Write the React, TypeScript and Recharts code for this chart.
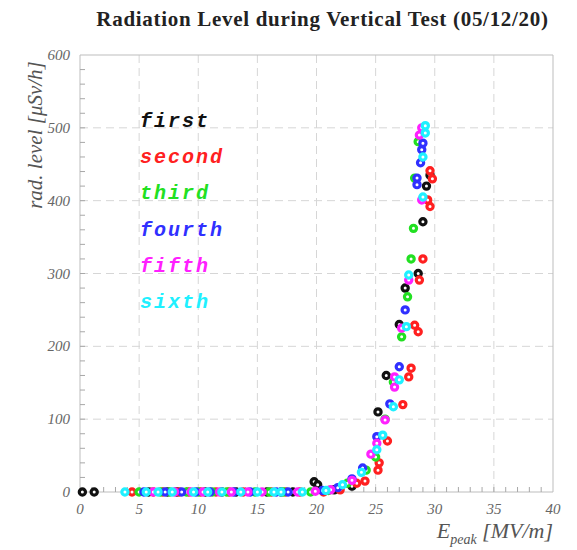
import {
	ReferenceLine,
	Scatter,
	ScatterChart,
	XAxis,
	YAxis,
} from 'recharts'

// E_peak [MV/m] and radiation [uSv/h], per test run
const firstX = [0.2, 1.2, 5.8, 7.4, 8.2, 10.6, 12.0, 13.2, 15.8, 17.0, 18.0, 19.8, 20.1, 21.5, 23.0, 25.2, 25.9, 27.0, 27.5, 28.6, 29.0, 29.3, 29.6]
const firstY = [0, 0, 0, 0, 0, 0, 0, 0, 0, 0, 0, 14, 10, 3, 8, 110, 160, 230, 280, 300, 371, 420, 435]

const secondX = [4.4, 6.2, 7.0, 8.4, 9.2, 10.2, 11.5, 12.6, 13.8, 16.2, 17.4, 18.6, 20.6, 22.0, 23.4, 24.1, 25.2, 25.3, 26.0, 27.3, 27.8, 28.0, 28.3, 28.6, 28.7, 29.0, 29.4, 29.6, 29.6, 29.8]
const secondY = [0, 0, 0, 0, 0, 0, 0, 0, 0, 0, 0, 0, 0, 3, 12, 15, 30, 40, 70, 120, 158, 170, 229, 220, 291, 320, 401, 392, 441, 430]

const thirdX = [5.0, 6.8, 7.6, 9.0, 10.0, 11.2, 12.4, 14.8, 16.0, 17.2, 19.5, 21.0, 22.6, 24.2, 25.0, 25.8, 26.5, 27.2, 27.7, 28.0, 28.2, 28.3, 28.6]
const thirdY = [0, 0, 0, 0, 0, 0, 0, 0, 0, 0, 0, 2, 12, 30, 48, 100, 151, 213, 268, 320, 362, 431, 481]

const fourthX = [5.4, 7.2, 8.6, 9.8, 11.0, 13.0, 14.4, 16.6, 17.6, 20.5, 21.8, 23.0, 23.9, 25.1, 26.2, 27.0, 27.5, 28.5, 28.5, 28.8, 28.9, 29.0]
const fourthY = [0, 0, 0, 0, 0, 0, 0, 0, 0, 2, 6, 18, 33, 76, 121, 172, 250, 431, 422, 452, 470, 479]

const fifthX = [6.2, 8.0, 9.4, 10.4, 11.8, 12.8, 14.2, 15.4, 18.4, 19.9, 21.2, 23.0, 24.6, 25.1, 25.8, 26.6, 26.6, 27.2, 27.8, 28.9, 28.7, 28.9]
const fifthY = [0, 0, 0, 0, 0, 0, 0, 0, 0, 1, 3, 16, 52, 67, 99, 144, 158, 225, 291, 401, 490, 500]

const sixthX = [3.8, 5.6, 6.6, 7.8, 9.6, 10.8, 12.0, 13.6, 15.0, 16.4, 17.0, 18.8, 20.8, 22.2, 23.8, 25.1, 25.6, 26.5, 27.0, 27.6, 27.8, 29.0, 29.0, 29.2, 29.2]
const sixthY = [0, 0, 0, 0, 0, 0, 0, 0, 0, 0, 0, 0, 2, 10, 27, 58, 78, 117, 154, 227, 298, 405, 460, 493, 503]

const runNames = ['first', 'second', 'third', 'fourth', 'fifth', 'sixth']
const runColors = ['#111111', '#ff2020', '#22e022', '#3030ff', '#ff20ff', '#20f0ff']

const xMajor = [0, 5, 10, 15, 20, 25, 30, 35, 40]
const yMajor = [0, 100, 200, 300, 400, 500, 600]
const xMinor = Array.from({ length: 39 }, (_, i) => i + 1)
const yMinor = Array.from({ length: 29 }, (_, i) => (i + 1) * 20)

const toPoints = (xs: number[], ys: number[]) => xs.map((x, i) => ({ x, y: ys[i] }))

const runs = [
	toPoints(firstX, firstY),
	toPoints(secondX, secondY),
	toPoints(thirdX, thirdY),
	toPoints(fourthX, fourthY),
	toPoints(fifthX, fifthY),
	toPoints(sixthX, sixthY),
]

// inner tick marks sit on the axes: x ticks at y = 0, y ticks at x = 0
const xTickMarks = xMinor.map((x) => ({ x, y: 0 }))
const yTickMarks = yMinor.map((y) => ({ x: 0, y }))

const serif = '"Liberation Serif", "DejaVu Serif", serif'
const axisGrey = '#bdbdbd'
const gridGrey = '#d6d6d6'
const tickGrey = '#a8a8a8'

const XTick = (props: any) => {
	const { x, y, payload } = props
	return (
		<text x={x} y={y + 12} textAnchor='middle' fontFamily={serif} fontStyle='italic' fontSize={15} fill='#666'>
			{payload.value}
		</text>
	)
}

const YTick = (props: any) => {
	const { x, y, payload } = props
	return (
		<text x={x} y={y + 5} textAnchor='end' fontFamily={serif} fontStyle='italic' fontSize={15} fill='#666'>
			{payload.value}
		</text>
	)
}

const ringDot = (color: string) => (props: any) => (
	<circle cx={props.cx} cy={props.cy} r={3.1} fill='#ffffff' stroke={color} strokeWidth={3.2} />
)

// plain <line> shapes get their stroke dropped, so tick marks are thin rects
const upTick = (props: any) => (
	<rect x={props.cx - 0.5} y={props.cy - 5} width={1} height={5} fill={tickGrey} />
)

const rightTick = (props: any) => (
	<rect x={props.cx} y={props.cy - 0.5} width={5} height={1} fill={tickGrey} />
)

export default function App() {
	return (
		<div style={{ position: 'absolute', left: 0, top: 0, width: 577, height: 550, background: '#fff' }}>
			<div
				style={{
					position: 'absolute',
					left: 0,
					width: 577,
					top: 7,
					paddingLeft: 68,
					boxSizing: 'border-box',
					textAlign: 'center',
					fontFamily: serif,
					fontWeight: 'bold',
					fontSize: 21,
					letterSpacing: 0.7,
					color: '#222',
				}}
			>
				Radiation Level during Vertical Test (05/12/20)
			</div>
			<ScatterChart width={577} height={550} margin={{ top: 55, right: 24, bottom: 28, left: 0 }}>
				<XAxis
					type='number'
					dataKey='x'
					domain={[0, 40]}
					ticks={xMajor}
					interval={0}
					tickLine={false}
					tickMargin={4}
					height={30}
					stroke={axisGrey}
					tick={XTick}
				/>
				<YAxis
					type='number'
					dataKey='y'
					domain={[0, 600]}
					ticks={yMajor}
					interval={0}
					tickLine={false}
					tickMargin={4}
					width={80}
					stroke={axisGrey}
					tick={YTick}
				/>
				{xMajor.slice(1, -1).map((v) => (
					<ReferenceLine key={'gx' + v} x={v} stroke={gridGrey} strokeDasharray='8 5' />
				))}
				{yMajor.slice(1, -1).map((v) => (
					<ReferenceLine key={'gy' + v} y={v} stroke={gridGrey} strokeDasharray='8 5' />
				))}
				<ReferenceLine x={40} stroke={axisGrey} />
				<ReferenceLine y={600} stroke={axisGrey} />
				<Scatter name='xticks' data={xTickMarks} fill={tickGrey} shape={upTick} legendType='none' isAnimationActive={false} />
				<Scatter name='yticks' data={yTickMarks} fill={tickGrey} shape={rightTick} legendType='none' isAnimationActive={false} />
				{runs.map((pts, i) => (
					<Scatter
						key={runNames[i]}
						name={runNames[i]}
						data={pts}
						fill={runColors[i]}
						shape={ringDot(runColors[i])}
						isAnimationActive={false}
					/>
				))}
			</ScatterChart>
			{runNames.map((name, i) => (
				<div
					key={name}
					style={{
						position: 'absolute',
						left: 140,
						top: 110 + i * 36.2,
						fontFamily: '"Liberation Mono", "DejaVu Sans Mono", monospace',
						fontWeight: 'bold',
						fontStyle: 'italic',
						fontSize: 20,
						letterSpacing: 2,
						lineHeight: '24px',
						color: runColors[i],
					}}
				>
					{name}
				</div>
			))}
			<div
				style={{
					position: 'absolute',
					left: 35,
					top: 135,
					transform: 'translate(-50%, -50%) rotate(-90deg)',
					whiteSpace: 'nowrap',
					fontFamily: serif,
					fontStyle: 'italic',
					fontSize: 21,
					color: '#555',
				}}
			>
				rad. level [μSv/h]
			</div>
			<div
				style={{
					position: 'absolute',
					right: 24,
					top: 520,
					whiteSpace: 'nowrap',
					fontFamily: serif,
					fontStyle: 'italic',
					fontSize: 22,
					lineHeight: '22px',
					color: '#555',
				}}
			>
				E<span style={{ fontSize: 14, position: 'relative', top: 6 }}>peak</span> [MV/m]
			</div>
		</div>
	)
}
